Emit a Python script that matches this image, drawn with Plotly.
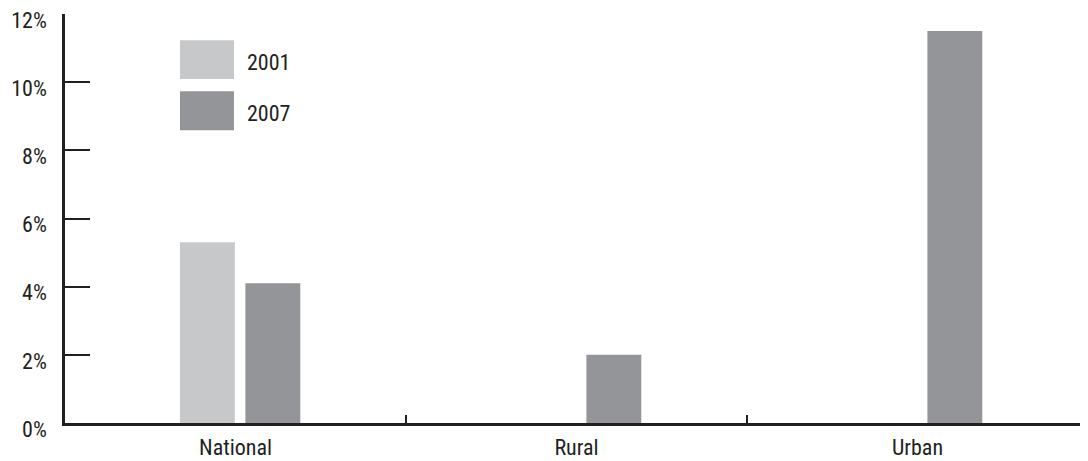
import plotly.graph_objects as go

categories = ["National", "Rural", "Urban"]
series_names = ["2001", "2007"]
values_2001 = [5.3, None, None]
values_2007 = [4.1, 2.0, 11.5]
y_tickvals = [0, 2, 4, 6, 8, 10, 12]
y_ticktext = ["0%", "2%", "4%", "6%", "8%", "10%", "12%"]

colors = ["#c7c8ca", "#939598"]
ink = "#231f20"
font_family = "Roboto Condensed, DejaVu Sans Condensed, sans-serif"
fsize = 22

bar_width = 0.161
bar_offsets = [-0.163, 0.029]

fig = go.Figure()
for name, vals, c, off in zip(series_names, [values_2001, values_2007], colors, bar_offsets):
    fig.add_trace(go.Bar(x=categories, y=vals, name=name, width=bar_width, offset=off,
                         marker=dict(color=c, line=dict(width=0)), showlegend=False))

# custom legend with large swatches (paper coordinates)
legend_y = [(0.936, 0.841), (0.811, 0.716)]
for (y1, y0), name, c in zip(legend_y, series_names, colors):
    fig.add_shape(type="rect", xref="paper", yref="paper", x0=0.1124, x1=0.1652, y0=y0, y1=y1,
                  fillcolor=c, line=dict(width=0))
    fig.add_annotation(xref="paper", yref="paper", x=0.176, y=(y0 + y1) / 2 - 0.006, text=name,
                       showarrow=False, xanchor="left", yanchor="middle",
                       font=dict(size=fsize, color=ink, family=font_family))

# the page body has an 8px margin, so the figure is sized/offset to compensate
fig.update_layout(
    width=1080, height=453,
    margin=dict(l=57, r=0, t=6, b=38, autoexpand=False),
    paper_bgcolor="white", plot_bgcolor="white",
    barmode="overlay",
    font=dict(family=font_family, size=fsize, color=ink),
    xaxis=dict(range=[-0.5, 2.5], showline=True, linecolor=ink, linewidth=2.5, automargin=False,
               ticks="inside", tickson="boundaries", ticklen=8, tickwidth=2, tickcolor=ink,
               ticklabelstandoff=3,
               showgrid=False, zeroline=False, tickfont=dict(size=fsize, color=ink)),
    yaxis=dict(range=[0, 12], tickvals=y_tickvals, ticktext=y_ticktext, automargin=False,
               showline=True, linecolor=ink, linewidth=2.5,
               ticks="inside", ticklen=25, tickwidth=2, tickcolor=ink,
               ticklabelstandoff=11, ticklabelshift=6, ticklabeloverflow="allow",
               showgrid=False, zeroline=False, tickfont=dict(size=fsize, color=ink)),
)

fig.write_html("out.html")
